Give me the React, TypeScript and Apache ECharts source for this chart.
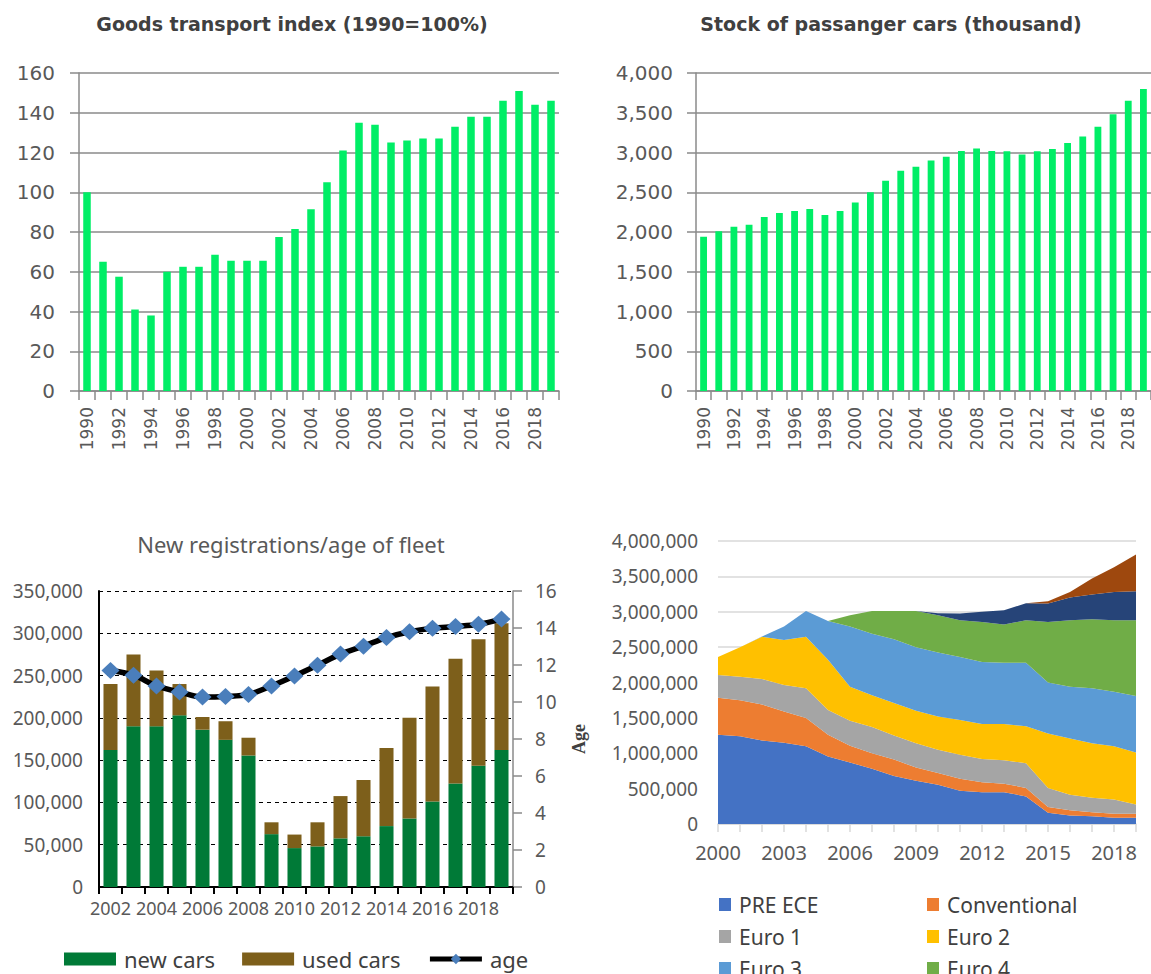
import { useEffect, useRef } from 'react';
import * as echarts from 'echarts';

const years1990 = ['1990','1991','1992','1993','1994','1995','1996','1997','1998','1999','2000','2001','2002','2003','2004','2005','2006','2007','2008','2009','2010','2011','2012','2013','2014','2015','2016','2017','2018','2019'];
const goodsIndex = [100,65,57.5,41,38,60,62.5,62.5,68.5,65.5,65.5,65.5,77.5,81.5,91.5,105,121,135,134,125,126,127,127,133,138,138,146,151,144,146];
const carStock = [1940,2010,2065,2090,2190,2240,2265,2290,2215,2265,2370,2500,2645,2770,2820,2900,2945,3020,3050,3020,3015,2975,3015,3045,3120,3200,3325,3480,3650,3800];

const years2002 = ['2002','2003','2004','2005','2006','2007','2008','2009','2010','2011','2012','2013','2014','2015','2016','2017','2018','2019'];
const newCars = [162000,190000,190000,203000,186000,174000,155500,62500,46000,48000,57500,60000,72000,81000,101000,122500,143500,162000];
const usedCars = [78000,85000,66000,37000,15000,22000,21000,14000,16000,28500,50000,66500,92500,119000,136000,147500,149500,150000];
const fleetAge = [11.7,11.45,10.87,10.54,10.27,10.3,10.41,10.87,11.41,11.99,12.59,13.02,13.48,13.8,13.99,14.08,14.2,14.48];

const years2000 = ['2000','2001','2002','2003','2004','2005','2006','2007','2008','2009','2010','2011','2012','2013','2014','2015','2016','2017','2018','2019'];
const preEce = [1260000,1240000,1180000,1150000,1100000,955000,870000,780000,680000,610000,556000,470000,450000,450000,390000,160000,120000,110000,87000,87000];
const conventional = [526000,510000,510000,440000,400000,305000,235000,220000,230000,190000,164000,170000,140000,120000,120000,80000,75000,56000,57000,57000];
const euro1 = [320000,330000,360000,375000,420000,350000,355000,370000,340000,340000,330000,340000,330000,330000,350000,270000,220000,204000,201000,131000];
const euro2 = [254000,420000,595000,635000,725000,710000,480000,450000,460000,460000,470000,490000,495000,515000,520000,770000,795000,770000,755000,735000];
const euro3 = [0,0,5000,190000,365000,550000,850000,870000,900000,900000,905000,890000,875000,865000,900000,720000,730000,780000,770000,800000];
const euro4 = [0,0,0,0,0,0,160000,320000,400000,510000,525000,520000,565000,540000,600000,855000,940000,975000,1010000,1070000];
const euro5 = [0,0,0,0,0,0,0,0,0,0,30000,95000,145000,200000,240000,260000,320000,350000,400000,410000];
const euro6 = [0,0,0,0,0,0,0,0,0,0,0,0,0,0,0,35000,80000,225000,350000,520000];

const fleetNames = ['PRE ECE','Conventional','Euro 1','Euro 2','Euro 3','Euro 4','Euro 5','Euro 6'];
const fleetData = [preEce, conventional, euro1, euro2, euro3, euro4, euro5, euro6];
const fleetColors = ['#4472c4','#ed7d31','#a5a5a5','#ffc000','#5b9bd5','#70ad47','#264478','#9e480e'];

const labelGray = '#595959';
const fmt = (v: number) => v.toLocaleString('en-US');

export default function App() {
  const ref = useRef<HTMLDivElement>(null);
  useEffect(() => {
    if (!ref.current) return;
    const chart = echarts.init(ref.current, undefined, { renderer: 'svg' });
    const gridGray = '#8a8a8a';
    const topXAxis = (gi: number) => ({
      type: 'category', gridIndex: gi, data: years1990,
      axisLine: { lineStyle: { color: gridGray, width: 1.5 } },
      axisTick: { show: true, interval: 0, length: 9, lineStyle: { color: gridGray, width: 1.5 } },
      axisLabel: { interval: 1, rotate: 90, fontFamily: 'DejaVu Sans', fontSize: 17, color: labelGray, margin: 16 },
    });
    const topYAxis = (gi: number, max: number, interval: number, margin: number) => ({
      type: 'value', gridIndex: gi, min: 0, max, interval,
      axisLine: { show: true, lineStyle: { color: gridGray, width: 1.5 } },
      axisTick: { show: true, length: 9, lineStyle: { color: gridGray, width: 1.5 } },
      splitLine: { show: true, lineStyle: { color: gridGray, width: 1.5 } },
      axisLabel: { fontFamily: 'DejaVu Sans', fontSize: 20, color: labelGray, margin, formatter: (v: number) => fmt(v) },
    });
    const fleetLegend = (names: string[], left: number) => ({
      data: names, orient: 'vertical', left, top: 894, height: 300, icon: 'rect',
      itemWidth: 12, itemHeight: 13, itemGap: 11, padding: 0,
      textStyle: { fontFamily: 'Noto Sans', fontSize: 21, color: '#404040', padding: [0, 0, 0, 3] },
    });
    const option: any = {
      animation: false,
      title: [
        { text: 'Goods transport index (1990=100%)', left: 292, top: 14, textAlign: 'center', padding: 0,
          textStyle: { fontFamily: 'DejaVu Sans', fontWeight: 'bold', fontSize: 19, color: '#404040' } },
        { text: 'Stock of passanger cars (thousand)', left: 891, top: 14, textAlign: 'center', padding: 0,
          textStyle: { fontFamily: 'DejaVu Sans', fontWeight: 'bold', fontSize: 19, color: '#404040' } },
        { text: 'New registrations/age of fleet', left: 291, top: 533, textAlign: 'center', padding: 0,
          textStyle: { fontFamily: 'Noto Sans', fontWeight: 'normal', fontSize: 22, color: labelGray } },
      ],
      legend: [
        { data: [{ name: 'new cars', icon: 'rect' }, { name: 'used cars', icon: 'rect' },
                 { name: 'age', lineStyle: { width: 5, color: '#000' }, itemStyle: { color: '#4a7ebb' } }],
          left: 64, top: 948, itemWidth: 52, itemHeight: 13, itemGap: 27, padding: 0,
          textStyle: { fontFamily: 'Noto Sans', fontSize: 22, color: '#404040', padding: [0, 0, 0, 3] } },
        fleetLegend(['PRE ECE','Euro 1','Euro 3','Euro 5'], 719),
        fleetLegend(['Conventional','Euro 2','Euro 4','Euro 6'], 927),
      ],
      grid: [
        { left: 79, top: 73, width: 480, height: 318 },
        { left: 696, top: 73, width: 459, height: 318 },
        { left: 99, top: 591, width: 414, height: 296 },
        { left: 718, top: 541, width: 418, height: 283 },
      ],
      xAxis: [
        topXAxis(0),
        topXAxis(1),
        { type: 'category', gridIndex: 2, data: years2002,
          axisLine: { lineStyle: { color: '#000', width: 2 } },
          axisTick: { show: true, interval: 0, length: 7, lineStyle: { color: '#000', width: 2 } },
          axisLabel: { interval: 1, fontFamily: 'Noto Sans', fontSize: 18, color: labelGray, margin: 12 } },
        { type: 'category', gridIndex: 3, data: years2000, boundaryGap: false,
          axisLine: { lineStyle: { color: '#d9d9d9', width: 1.5 } },
          axisTick: { show: true, interval: 0, length: 8, lineStyle: { color: '#d9d9d9', width: 1.5 } },
          axisLabel: { interval: 2, fontFamily: 'Noto Sans', fontSize: 20, color: labelGray, margin: 18 } },
      ],
      yAxis: [
        topYAxis(0, 160, 20, 24),
        topYAxis(1, 4000, 500, 23),
        { type: 'value', gridIndex: 2, min: 0, max: 350000, interval: 50000,
          axisLine: { show: true, lineStyle: { color: '#000', width: 2 } },
          axisTick: { show: false },
          splitLine: { show: true, lineStyle: { color: '#000', width: 1.2, type: [4, 4] } },
          axisLabel: { fontFamily: 'Noto Sans', fontSize: 19, color: labelGray, margin: 16, formatter: (v: number) => fmt(v) } },
        { type: 'value', gridIndex: 2, position: 'right', min: 0, max: 16, interval: 2,
          name: 'Age', nameLocation: 'middle', nameGap: 57, nameRotate: 90,
          nameTextStyle: { fontFamily: 'Liberation Serif', fontWeight: 'bold', fontSize: 18, color: '#404040' },
          axisLine: { show: true, lineStyle: { color: '#8a8a8a', width: 1.5 } },
          axisTick: { show: true, length: 9, lineStyle: { color: '#8a8a8a', width: 1.5 } },
          splitLine: { show: false },
          axisLabel: { fontFamily: 'Noto Sans', fontSize: 19, color: labelGray, margin: 22 } },
        { type: 'value', gridIndex: 3, min: 0, max: 4000000, interval: 500000,
          axisLine: { show: false }, axisTick: { show: false },
          splitLine: { show: true, lineStyle: { color: '#d9d9d9', width: 1.5 } },
          axisLabel: { fontFamily: 'Noto Sans', fontSize: 19, color: labelGray, margin: 20, formatter: (v: number) => fmt(v) } },
      ],
      series: [
        { name: 'Goods transport index', type: 'bar', xAxisIndex: 0, yAxisIndex: 0, data: goodsIndex, barWidth: '47%',
          itemStyle: { color: '#00ee66' } },
        { name: 'Stock of passanger cars', type: 'bar', xAxisIndex: 1, yAxisIndex: 1, data: carStock, barWidth: '45%',
          itemStyle: { color: '#00ee66' } },
        { name: 'new cars', type: 'bar', xAxisIndex: 2, yAxisIndex: 2, stack: 'reg', data: newCars, barWidth: '61%',
          itemStyle: { color: '#007a37' } },
        { name: 'used cars', type: 'bar', xAxisIndex: 2, yAxisIndex: 2, stack: 'reg', data: usedCars, barWidth: '61%',
          itemStyle: { color: '#7d5f1b' } },
        { name: 'age', type: 'line', xAxisIndex: 2, yAxisIndex: 3, data: fleetAge, smooth: 0.35,
          symbol: 'diamond', symbolSize: [18, 17], showAllSymbol: true,
          lineStyle: { color: '#000', width: 5.5 }, itemStyle: { color: '#4a7ebb' } },
        ...fleetNames.map((n, i) => ({
          name: n, type: 'line', xAxisIndex: 3, yAxisIndex: 4, stack: 'fleet', data: fleetData[i],
          symbol: 'none', showSymbol: false, color: fleetColors[i],
          lineStyle: { width: 0, color: fleetColors[i] },
          itemStyle: { color: fleetColors[i] },
          areaStyle: { color: fleetColors[i], opacity: 1 },
        })),
      ],
    };
    chart.setOption(option);
    return () => chart.dispose();
  }, []);
  return <div ref={ref} style={{ position: 'fixed', left: 0, top: 0, width: 1151, height: 974, background: '#fff' }} />;
}
